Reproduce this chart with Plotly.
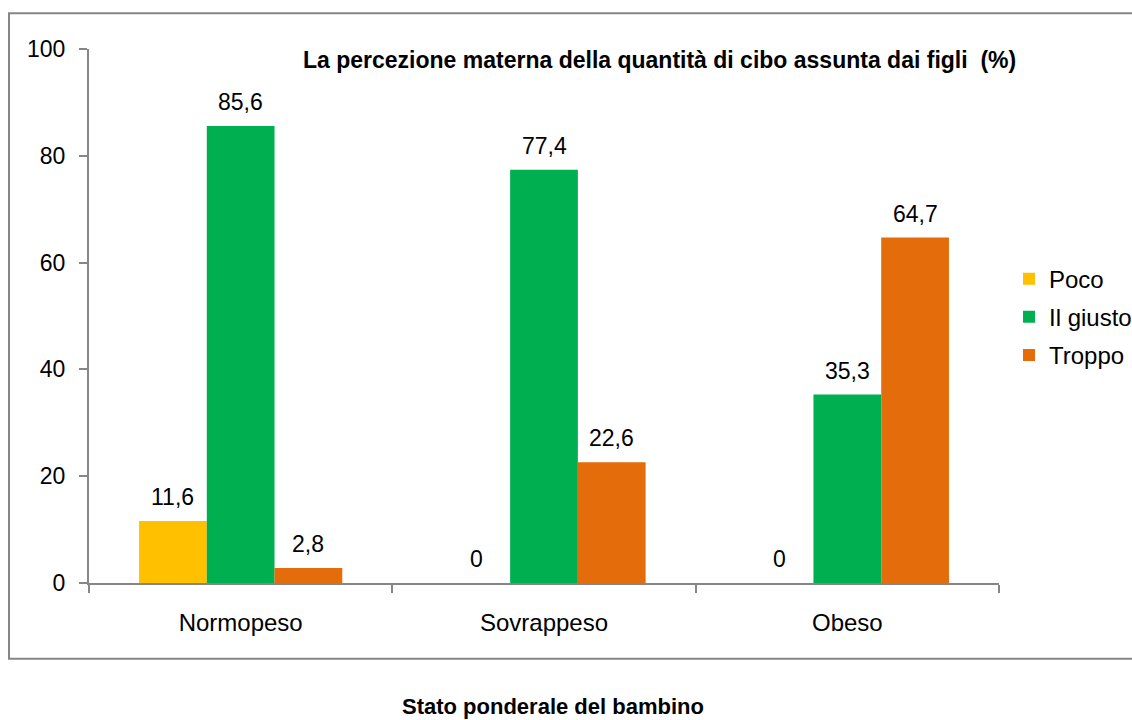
import plotly.graph_objects as go

categories = ['Normopeso', 'Sovrappeso', 'Obeso']
poco = [11.6, 0, 0]
giusto = [85.6, 77.4, 35.3]
troppo = [2.8, 22.6, 64.7]
yTicks = [0, 20, 40, 60, 80, 100]

class layoutConfig:
    axisColor = '#868686'
    graphFont = dict(family="Liberation Sans, Arial, sans-serif", size=24, color="black")
    plotWidth = 910
    bargap = 0.33

series = [('Poco', poco, '#FFC000'),
          ('Il giusto', giusto, '#00B050'),
          ('Troppo', troppo, '#E46C0A')]

# bar width in pixels, used to put the value labels over each bar
barPx = layoutConfig.plotWidth / len(categories) * (1 - layoutConfig.bargap) / len(series)

fig = go.Figure()
labels = []
for i, (name, values, color) in enumerate(series):
    fig.add_trace(go.Bar(
        x=categories,
        y=values,
        name=name,
        legendgroup=name,
        marker=dict(color=color, line=dict(width=0)),
    ))
    for cat, val in zip(categories, values):
        labels.append(dict(
            x=cat, y=val, xref='x', yref='y',
            text=f'{val:g}'.replace('.', ','),
            showarrow=False, xanchor='center', yanchor='middle',
            xshift=(i - 1) * barPx, yshift=24,
            font=dict(size=23),
        ))

fig.update_layout(
    width=1132, height=720,
    margin=dict(l=89, r=133, t=49, b=137, autoexpand=False),
    paper_bgcolor='white', plot_bgcolor='white',
    font=layoutConfig.graphFont,
    barmode='group',
    bargap=layoutConfig.bargap, bargroupgap=0,
    showlegend=True,
    legend=dict(x=1.011, y=0.498, xanchor='left', yanchor='middle',
                font=dict(size=24), traceorder='grouped', tracegroupgap=4),
    xaxis=dict(showline=True, linecolor=layoutConfig.axisColor, linewidth=2,
               ticks='outside', tickson='boundaries', ticklen=8, tickwidth=2,
               tickcolor=layoutConfig.axisColor, ticklabelstandoff=17,
               tickfont=dict(size=24)),
    yaxis=dict(range=[0, 100], tickvals=yTicks, showline=True,
               linecolor=layoutConfig.axisColor, linewidth=2, showgrid=False,
               zeroline=False, ticks='outside', ticklen=8, tickwidth=2,
               tickcolor=layoutConfig.axisColor, ticklabelstandoff=9,
               tickfont=dict(size=23)),
    shapes=[dict(type='rect', xref='paper', yref='paper',
                 x0=-0.0879, x1=1.2, y0=-0.142, y1=1.067,
                 line=dict(color=layoutConfig.axisColor, width=2))],
    annotations=labels + [
        dict(text='<b>La percezione materna della quantità di cibo assunta dai figli  (%)</b>',
             xref='paper', yref='paper', x=0.627, y=0.979, xanchor='center', yanchor='middle',
             showarrow=False, font=dict(size=23)),
        dict(text='<b>Stato ponderale del bambino</b>',
             xref='paper', yref='paper', x=0.51, y=-0.231, xanchor='center', yanchor='middle',
             showarrow=False, font=dict(size=22)),
    ],
)

# drop the default body margin so the figure sits at the top-left corner
fig.write_html("out.html", config=dict(displayModeBar=False),
               post_script="document.body.style.margin = '0';")
